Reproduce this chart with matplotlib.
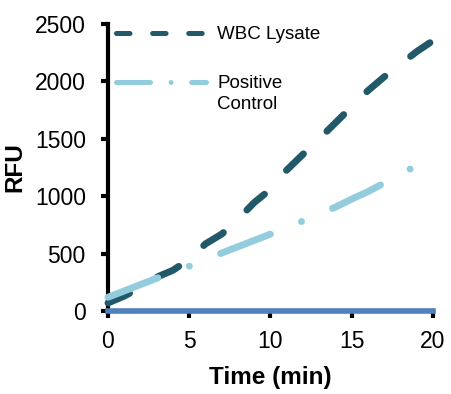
import matplotlib
matplotlib.use("Agg")
import matplotlib.pyplot as plt
from matplotlib.lines import Line2D
from matplotlib.legend_handler import HandlerLine2D

# ---- data ----
time_min = [0, 1, 2, 3, 4, 5, 6, 7, 8, 9, 10, 11, 12, 13, 14, 15, 16, 17, 18, 19, 20]
wbc_lysate = [70, 130, 205, 295, 355, 450, 585, 670, 800, 945, 1060, 1228, 1365,
              1500, 1640, 1780, 1920, 2040, 2150, 2260, 2355]
pc_time = [0, 1, 2, 3, 4, 5, 6, 7, 8, 9, 10, 11, 12, 13, 14, 15, 16, 17, 18, 18.6]
positive_control = [120, 175, 230, 285, 335, 390, 450, 505, 560, 615, 670, 725, 785,
                    845, 905, 975, 1040, 1115, 1190, 1237]
neg_time = [0, 20]
negative_control = [0, 0]

x_ticks = [0, 5, 10, 15, 20]
y_ticks = [0, 500, 1000, 1500, 2000, 2500]
labels = ["WBC Lysate", "Positive\nControl"]

DARK = "#215968"
LIGHT = "#93CDDD"
BLUE = "#4F81BD"

plt.rcParams['font.family'] = ['Liberation Sans', 'DejaVu Sans']
plt.rcParams['lines.scale_dashes'] = False

fig = plt.figure(figsize=(4.52, 3.94), dpi=100)
ax = fig.add_axes([108 / 452, 83 / 394, 325 / 452, 287 / 394])

ax.plot(time_min, wbc_lysate, color=DARK, lw=5, dashes=(17, 23.5),
        dash_capstyle='round', zorder=3, clip_on=False)
ax.plot(pc_time, positive_control, color=LIGHT, lw=5, dashes=(38.5, 24.2, 0.01, 24.2),
        dash_capstyle='round', zorder=4, clip_on=False)
ax.plot(neg_time, negative_control, color=BLUE, lw=4, solid_capstyle='projecting',
        zorder=5, clip_on=False)

ax.set_xlim(0, 20)
ax.set_ylim(0, 2500)
ax.set_xticks(x_ticks)
ax.set_yticks(y_ticks)

for s in ['top', 'right']:
    ax.spines[s].set_visible(False)
for s in ['left', 'bottom']:
    ax.spines[s].set_linewidth(3)
    ax.spines[s].set_color('black')

ax.tick_params(axis='both', direction='out', length=5, width=3, labelsize=16.5, color='black')
ax.tick_params(axis='y', pad=11)
ax.tick_params(axis='x', pad=9)

ax.set_xlabel("Time (min)", fontsize=17.5, fontweight='bold', labelpad=9)
ax.set_ylabel("RFU", fontsize=17.5, fontweight='bold', labelpad=6)


class OffsetHandler(HandlerLine2D):
    def __init__(self, dy=0, **kw):
        super().__init__(**kw)
        self.dy = dy

    def create_artists(self, legend, orig_handle, xdescent, ydescent, width, height,
                       fontsize, trans):
        arts = super().create_artists(legend, orig_handle, xdescent, ydescent, width,
                                      height, fontsize, trans)
        for a in arts:
            a.set_ydata([y + self.dy for y in a.get_ydata()])
        return arts


h1 = Line2D([], [], color=DARK, lw=3.6, dashes=(9.7, 16.3), dash_capstyle='round')
h2 = Line2D([], [], color=LIGHT, lw=3.6, dashes=(24.5, 14.8, 0.01, 14.8), dash_capstyle='round')
leg = ax.legend([h1, h2], labels, loc='upper left', bbox_to_anchor=(0.024, 0.993),
                frameon=False, fontsize=13.5, handlelength=4.8, handletextpad=0.62,
                labelspacing=1.7, borderaxespad=0, borderpad=0,
                handler_map={h2: OffsetHandler(dy=8.8)})
for t in leg.get_texts():
    t.set_linespacing(1.3)

fig.savefig("out.png", dpi=100)
